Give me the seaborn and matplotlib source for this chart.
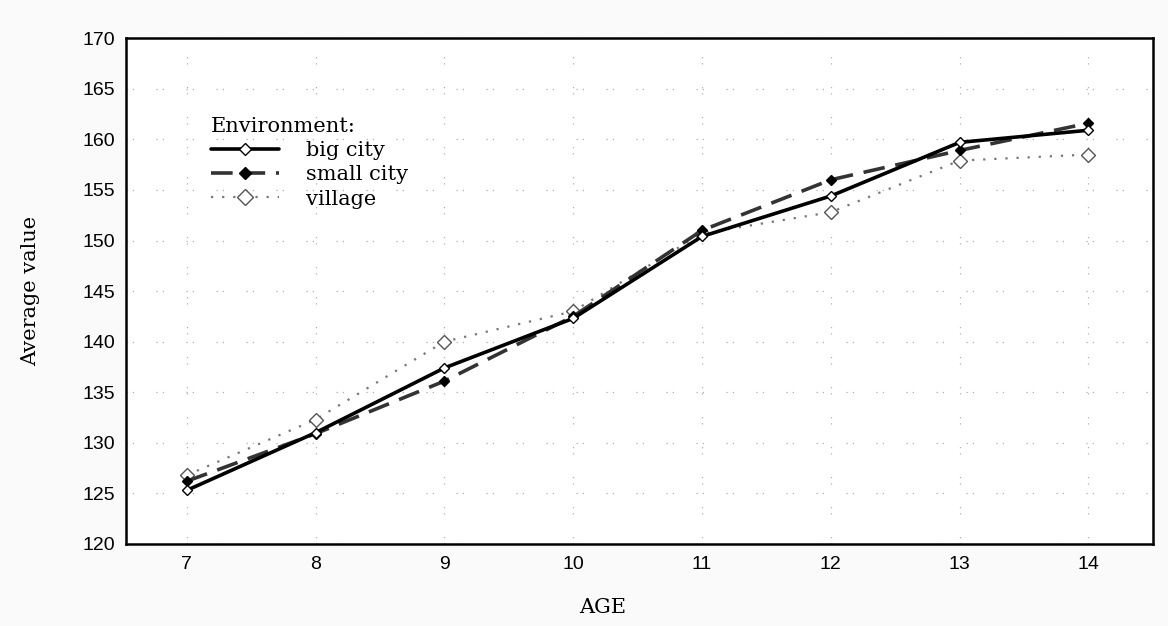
import pandas as pd
import matplotlib.pyplot as plt
import seaborn as sns
from matplotlib.lines import Line2D

ages = [7, 8, 9, 10, 11, 12, 13, 14]
big_city = [125.3, 131.0, 137.4, 142.3, 150.4, 154.4, 159.7, 160.9]
small_city = [126.2, 130.9, 136.1, 142.5, 151.0, 156.0, 158.9, 161.6]
village = [126.8, 132.3, 140.0, 143.0, 150.7, 152.8, 157.9, 158.5]
groups = ['big city', 'small city', 'village']

df = pd.concat([
    pd.DataFrame({'AGE': ages, 'value': big_city, 'Environment': 'big city'}),
    pd.DataFrame({'AGE': ages, 'value': small_city, 'Environment': 'small city'}),
    pd.DataFrame({'AGE': ages, 'value': village, 'Environment': 'village'}),
])

sns.set_style('white')
plt.rcParams['font.family'] = ['Liberation Sans', 'DejaVu Sans']
plt.rcParams['text.color'] = 'black'
serif = ['DejaVu Serif', 'Liberation Serif']

fig = plt.figure(figsize=(11.68, 6.26), dpi=100, facecolor='#fafafa')
ax = fig.add_axes([0.108, 0.131, 0.879, 0.808])
ax.set_facecolor('white')

styles = {
    'big city': dict(color='black', ls='-', lw=2.6, marker='D', mfc='white', mec='black', ms=5, z=4),
    'small city': dict(color='#333333', ls=(0, (6, 3)), lw=2.6, marker='D', mfc='black', mec='black', ms=5, z=3),
    'village': dict(color='#777777', ls=(0, (1, 4)), lw=1.6, marker='D', mfc='white', mec='#555555', ms=7, z=2),
}

for g in groups:
    s = styles[g]
    sns.lineplot(data=df[df['Environment'] == g], x='AGE', y='value', ax=ax,
                 color=s['color'], linestyle=s['ls'], linewidth=s['lw'],
                 marker=s['marker'], markerfacecolor=s['mfc'], markeredgecolor=s['mec'],
                 markersize=s['ms'], markeredgewidth=1.0, zorder=s['z'], legend=False)

ax.set_xlim(6.53, 14.5)
ax.set_ylim(120, 170)
ax.set_xticks(ages)
ax.set_yticks(range(120, 171, 5))
ax.tick_params(axis='both', labelsize=14, direction='in', length=3, colors='black')
ax.tick_params(axis='x', length=0, pad=9)
ax.tick_params(axis='y', pad=8)
for sp in ax.spines.values():
    sp.set_color('black')
    sp.set_linewidth(1.8)

# dotted grid like the original
ax.grid(True, color='#b0b0b0', linestyle=(0, (1, 4, 1, 18)), linewidth=0.9)
ax.set_axisbelow(True)
ax.set_xlabel('')
ax.set_ylabel('')

fig.text(0.516, 0.015, 'AGE', family=serif, fontsize=15, color='black',
         ha='center', va='bottom')
fig.text(0.026, 0.535, 'Average value', family=serif, fontsize=15, color='black',
         rotation=90, ha='center', va='center')

handles = []
for g in groups:
    s = styles[g]
    handles.append(Line2D([], [], color=s['color'], linestyle=s['ls'], linewidth=s['lw'],
                          marker=s['marker'], markerfacecolor=s['mfc'], markeredgecolor=s['mec'],
                          markersize=s['ms'] + 1))
leg = ax.legend(handles, groups, title='Environment:', loc='upper left',
                bbox_to_anchor=(0.068, 0.873), frameon=False, handlelength=3.3,
                handletextpad=1.3, labelspacing=0.25, borderpad=0.2,
                prop={'family': serif, 'size': 15})
leg.get_title().set_fontfamily(serif)
leg.get_title().set_fontsize(15)
leg._legend_box.align = 'left'

fig.savefig('out.png', dpi=100, facecolor=fig.get_facecolor())
